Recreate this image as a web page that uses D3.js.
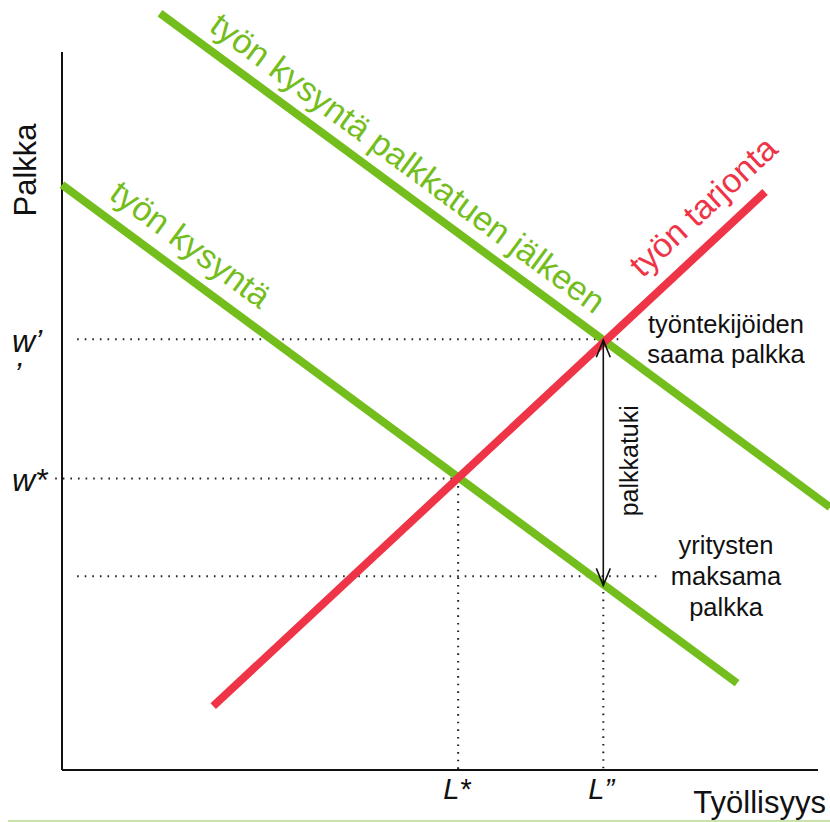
<!DOCTYPE html>
<html>
<head>
<meta charset="utf-8">
<script src="https://cdn.jsdelivr.net/npm/d3@7"></script>
<style>
  html, body { margin: 0; padding: 0; background: #fff; }
  svg { display: block; }
  text { font-family: "Liberation Sans", Arial, sans-serif; }
</style>
</head>
<body>
<svg id="chart" width="830" height="822"></svg>
<script>
// ---- data (abstract units: employment 0..100, wage 0..100) ----
const curveNames = ["työn kysyntä", "työn kysyntä palkkatuen jälkeen", "työn tarjonta"];
const demand = [[0, 81.5], [89.3, 12.1]];
const demandAfter = [[12.96, 105.4], [101.6, 36.6]];
const supply = [[20.0, 8.9], [93.0, 80.5]];
const xTickValues = [52.4, 71.6];
const xTickLabels = ["L*", "L”"];
const yTickValues = [60.0, 40.6];
const yTickLabels = ["w’", "w*"];
const subsidyLowWage = 27.0;
const axisTitles = ["Palkka", "Työllisyys"];
const wageNoteTop = ["työntekijöiden", "saama palkka"];
const wageNoteBottom = ["yritysten", "maksama", "palkka"];
const arrowLabel = "palkkatuki";

// ---- layout ----
const svg = d3.select("#chart");
const x = d3.scaleLinear().domain([0, 100]).range([62, 818]);
const y = d3.scaleLinear().domain([0, 100]).range([770, 52]);

const GREEN = "#73bd1c", RED = "#ee3446";

function lineAt(seg, xv) {
  const [[x0, y0], [x1, y1]] = seg;
  return y0 + (xv - x0) * (y1 - y0) / (x1 - x0);
}

// bottom decorative rule
svg.append("line").attr("x1", 8).attr("x2", 830).attr("y1", 821).attr("y2", 821)
  .attr("stroke", "#c8e2a8").attr("stroke-width", 2);

// dotted guides
const dot = { stroke: "#222", "stroke-width": 2, "stroke-dasharray": "1.6,6", "stroke-linecap": "butt" };
function dotted(x1, y1, x2, y2) {
  const l = svg.append("line").attr("x1", x(x1)).attr("y1", y(y1)).attr("x2", x(x2)).attr("y2", y(y2));
  Object.entries(dot).forEach(([k, v]) => l.attr(k, v));
}
dotted(2, yTickValues[0], 73.8, yTickValues[0]);
dotted(-0.9, yTickValues[1], xTickValues[0], yTickValues[1]);
dotted(2, subsidyLowWage, 79.2, subsidyLowWage);
dotted(xTickValues[0], yTickValues[1], xTickValues[0], 0);
dotted(xTickValues[1], lineAt(demand, xTickValues[1]), xTickValues[1], 0);

// axes
const xAxis = d3.axisBottom(x).tickValues([]).tickSize(0);
const yAxis = d3.axisLeft(y).tickValues([]).tickSize(0);
svg.append("g").attr("transform", `translate(0,${y(0)})`).call(xAxis)
  .select(".domain").attr("stroke", "#111").attr("stroke-width", 2).attr("d", `M${x(0)},0H${x(100)}`);
svg.append("g").attr("transform", `translate(${x(0)},0)`).call(yAxis)
  .select(".domain").attr("stroke", "#111").attr("stroke-width", 2).attr("d", `M0,${y(0)}V${y(100)}`);

// curves
const lineGen = d3.line().x(d => x(d[0])).y(d => y(d[1]));
const curves = [
  { data: demand, color: GREEN, name: curveNames[0], lx: 4.7, off: 17 },
  { data: demandAfter, color: GREEN, name: curveNames[1], lx: 18.1, off: 15 },
  { data: supply, color: RED, name: curveNames[2], lx: 78.6, off: 20 }
];
curves.forEach(c => {
  svg.append("path").attr("d", lineGen(c.data)).attr("fill", "none")
    .attr("stroke", c.color).attr("stroke-width", 8);
});

// curve labels along the lines
curves.forEach(c => {
  const [[a0, b0], [a1, b1]] = c.data;
  const ang = Math.atan2(y(b1) - y(b0), x(a1) - x(a0)) * 180 / Math.PI;
  const px = x(c.lx), py = y(lineAt(c.data, c.lx));
  svg.append("text").attr("transform", `translate(${px},${py}) rotate(${ang})`)
    .attr("x", 0).attr("y", -c.off)
    .attr("fill", c.color).attr("font-size", 34).text(c.name);
});

// subsidy arrow
const ax = x(xTickValues[1]);
const aTop = y(yTickValues[0]) + 1;
const aBot = y(lineAt(demand, xTickValues[1])) + 1;
const arrowG = svg.append("g").attr("stroke", "#111").attr("stroke-width", 1.6).attr("fill", "none");
arrowG.append("line").attr("x1", ax).attr("x2", ax).attr("y1", aTop).attr("y2", aBot);
arrowG.append("path").attr("d", `M${ax - 7},${aTop + 17}L${ax},${aTop}L${ax + 7},${aTop + 17}`);
arrowG.append("path").attr("d", `M${ax - 7},${aBot - 17}L${ax},${aBot}L${ax + 7},${aBot - 17}`);

svg.append("text").attr("transform", `translate(${ax + 35},${(aTop + aBot) / 2 - 2}) rotate(-90)`)
  .attr("text-anchor", "middle").attr("font-size", 25).attr("fill", "#111").text(arrowLabel);

// notes on the right
wageNoteTop.forEach((t, i) => {
  svg.append("text").attr("x", 726).attr("y", y(yTickValues[0]) - 6 + i * 30)
    .attr("text-anchor", "middle").attr("font-size", 25.5).attr("fill", "#111").text(t);
});
wageNoteBottom.forEach((t, i) => {
  svg.append("text").attr("x", 726).attr("y", y(subsidyLowWage) - 22 + i * 31)
    .attr("text-anchor", "middle").attr("font-size", 25.5).attr("fill", "#111").text(t);
});

// tick labels
yTickValues.forEach((v, i) => {
  svg.append("text").attr("x", 12).attr("y", y(v) + 13)
    .attr("font-size", 32).attr("font-style", "italic").attr("fill", "#111").text(yTickLabels[i]);
});
svg.append("text").attr("x", 14).attr("y", y(yTickValues[0]) + 46)
  .attr("font-size", 32).attr("font-style", "italic").attr("fill", "#111").text("’");

xTickValues.forEach((v, i) => {
  svg.append("text").attr("x", x(v) - 15).attr("y", y(0) + 29)
    .attr("font-size", 29).attr("font-style", "italic").attr("fill", "#111").text(xTickLabels[i]);
});

// axis titles
svg.append("text").attr("transform", `translate(36,170) rotate(-90)`)
  .attr("text-anchor", "middle").attr("font-size", 31).attr("fill", "#111").text(axisTitles[0]);
svg.append("text").attr("x", 826).attr("y", 813)
  .attr("text-anchor", "end").attr("font-size", 31).attr("fill", "#111").text(axisTitles[1]);
</script>
</body>
</html>
